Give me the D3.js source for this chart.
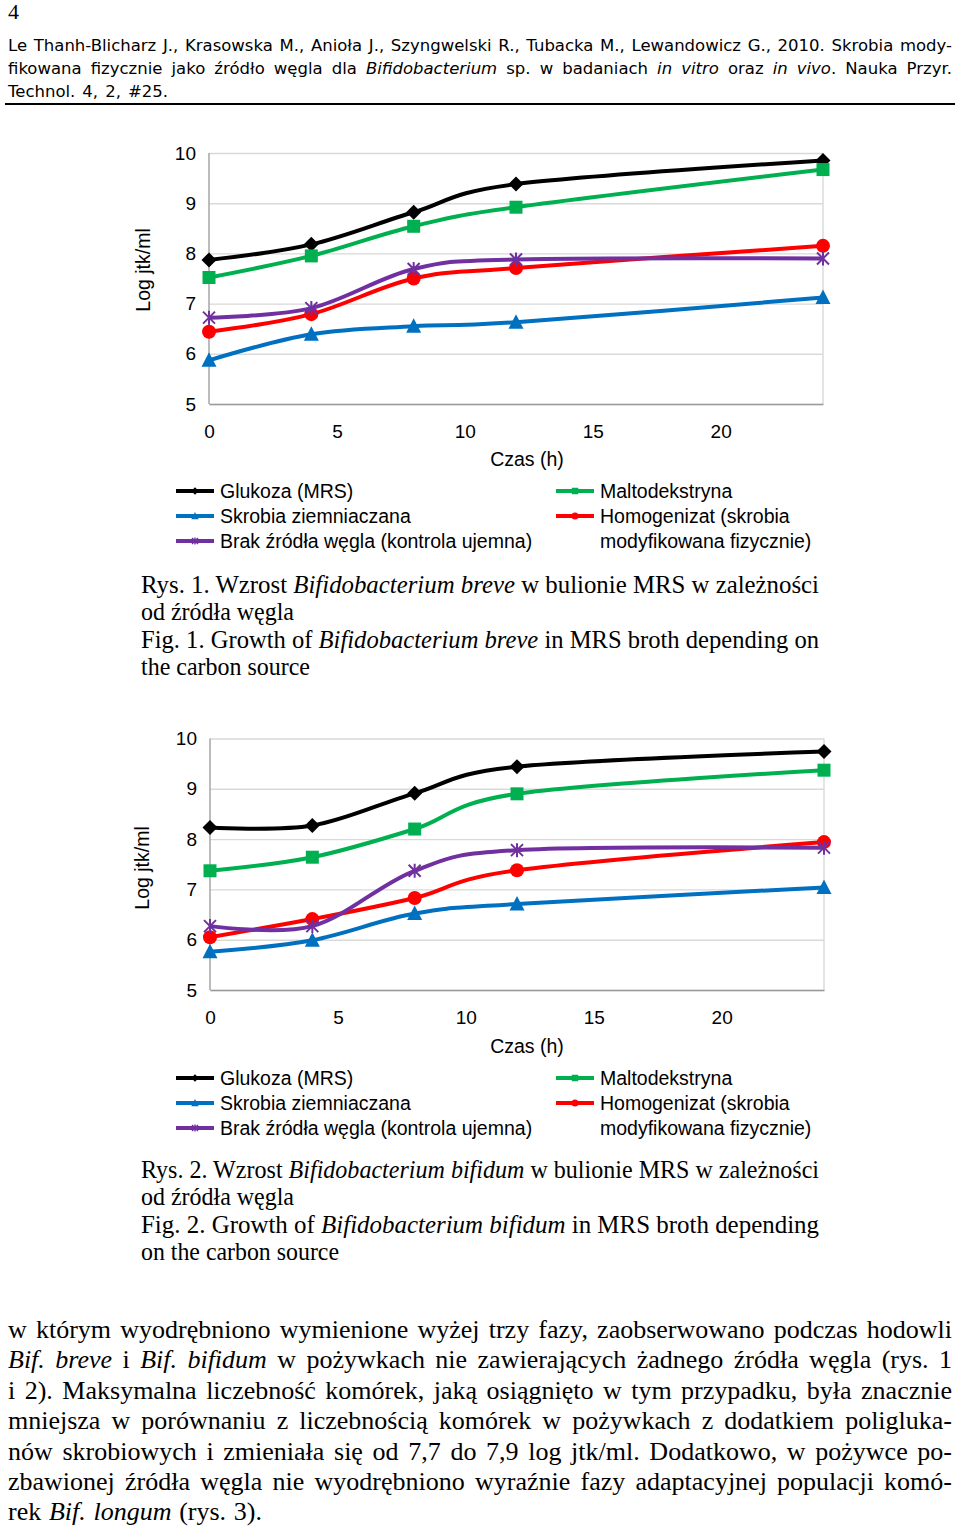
<!DOCTYPE html>
<html>
<head>
<meta charset="utf-8">
<script src="https://cdn.jsdelivr.net/npm/d3@7"></script>
<style>
  body { margin: 0; background: #fff; }
  svg { display: block; }
</style>
</head>
<body>
<div id="page"></div>
<script>
// sampling times (h) and axis ticks
const hours = [0, 4, 8, 12, 24];
const xTicks = [0, 5, 10, 15, 20];
const yTicks = [5, 6, 7, 8, 9, 10];

const seriesNames = ['Glukoza (MRS)', 'Maltodekstryna', 'Skrobia ziemniaczana',
  'Homogenizat (skrobia modyfikowana fizycznie)', 'Brak źródła węgla (kontrola ujemna)'];

// Rys. 1 - Bifidobacterium breve (log jtk/ml)
const breveGlukoza = [7.87, 8.18, 8.82, 9.38, 9.85];
const breveMalto   = [7.52, 7.95, 8.54, 8.92, 9.67];
const breveSkrobia = [5.87, 6.39, 6.55, 6.63, 7.12];
const breveHomog   = [6.44, 6.79, 7.50, 7.71, 8.15];
const breveBrak    = [6.72, 6.91, 7.69, 7.88, 7.90];

// Rys. 2 - Bifidobacterium bifidum (log jtk/ml)
const bifidumGlukoza = [8.23, 8.27, 8.91, 9.44, 9.74];
const bifidumMalto   = [7.37, 7.64, 8.20, 8.90, 9.37];
const bifidumSkrobia = [5.76, 5.99, 6.52, 6.71, 7.04];
const bifidumHomog   = [6.05, 6.41, 6.83, 7.38, 7.94];
const bifidumBrak    = [6.27, 6.27, 7.37, 7.78, 7.83];

const styles = [
  { color: '#000000', shape: 'diamond' },
  { color: '#00b050', shape: 'square' },
  { color: '#0070c0', shape: 'triangle' },
  { color: '#ff0000', shape: 'circle' },
  { color: '#7030a0', shape: 'star' }
];

const sans = "'Liberation Sans', Arial, sans-serif";
const serif = "'Liberation Serif', 'Times New Roman', serif";
const headerFont = "'DejaVu Sans', Tahoma, sans-serif";

let svg = d3.select('#page')
  .append('svg')
  .attr('width', 960)
  .attr('height', 1527)
  .style('background', 'white');

// one line of text, parts are strings or {i: '...'} for italics; optionally fitted to a width
function textLine(x, y, parts, font, size, width) {
  let t = svg.append('text')
    .attr('x', x)
    .attr('y', y)
    .style('font-family', font)
    .style('font-size', size + 'px')
    .attr('fill', '#000');
  parts.forEach(p => {
    let italic = typeof p !== 'string';
    t.append('tspan').text(italic ? p.i : p).style('font-style', italic ? 'italic' : 'normal');
  });
  if (width) {
    let node = t.node();
    let w = node.getComputedTextLength();
    let gaps = (node.textContent.match(/ /g) || []).length;
    if (w > width || gaps === 0) {
      t.attr('textLength', width).attr('lengthAdjust', 'spacingAndGlyphs');
    } else {
      t.style('word-spacing', ((width - w) / gaps) + 'px');
    }
  }
  return t;
}

function markerPath(shape, s) {
  switch (shape) {
    case 'diamond': return `M0,${-7.5*s}L${7.5*s},0L0,${7.5*s}L${-7.5*s},0Z`;
    case 'square': return `M${-6.5*s},${-6.5*s}h${13*s}v${13*s}h${-13*s}Z`;
    case 'triangle': return `M0,${-8*s}L${7.5*s},${6.5*s}H${-7.5*s}Z`;
    case 'circle': return d3.arc()({ innerRadius: 0, outerRadius: 7*s, startAngle: 0, endAngle: 2*Math.PI });
    case 'star': return `M${-6*s},${-6*s}L${6*s},${6*s}M${6*s},${-6*s}L${-6*s},${6*s}M0,${-7*s}V${7*s}`;
  }
}

function drawMarker(g, shape, color, s, tx, ty) {
  let m = g.append('path')
    .attr('d', markerPath(shape, s))
    .attr('transform', `translate(${tx},${ty})`);
  if (shape === 'star') m.attr('fill', 'none').attr('stroke', color).attr('stroke-width', 2 * Math.max(s, 0.7));
  else m.attr('fill', color);
}

function drawChart(c) {
  let xscale = d3.scaleLinear().domain([0, 24]).range([c.left, c.right]);
  let yscale = d3.scaleLinear().domain([5, 10]).range([c.bottom, c.top]);
  let g = svg.append('g');

  // horizontal gridlines + y labels
  g.append('g')
    .attr('transform', `translate(${c.left}, 0)`)
    .call(d3.axisLeft(yscale).tickValues(yTicks).tickFormat(d3.format('d'))
      .tickSize(-(c.right - c.left)).tickPadding(13))
    .call(a => a.select('.domain').remove())
    .call(a => a.selectAll('line').attr('stroke', '#d9d9d9').attr('stroke-width', 1.4))
    .call(a => a.selectAll('text').attr('fill', '#000').style('font-family', sans).style('font-size', '19px'));

  // right border of plot area
  g.append('line')
    .attr('x1', xscale(24)).attr('x2', xscale(24))
    .attr('y1', c.top).attr('y2', c.bottom)
    .attr('stroke', '#d9d9d9').attr('stroke-width', 1.4);

  // left axis line
  g.append('line')
    .attr('x1', c.left).attr('x2', c.left)
    .attr('y1', c.top).attr('y2', c.bottom)
    .attr('stroke', '#a6a6a6').attr('stroke-width', 1.5);

  // bottom axis
  g.append('g')
    .attr('transform', `translate(0, ${c.bottom})`)
    .call(d3.axisBottom(xscale).tickValues(xTicks).tickFormat(d3.format('d')).tickSize(0).tickPadding(21))
    .call(a => a.select('.domain').attr('stroke', '#9a9a9a').attr('stroke-width', 1.5))
    .call(a => a.selectAll('text').attr('fill', '#000').style('font-family', sans).style('font-size', '19px'));

  g.append('text')
    .text('Czas (h)')
    .attr('x', c.xTitleX)
    .attr('y', c.xTitleY)
    .attr('text-anchor', 'middle')
    .style('font-family', sans)
    .style('font-size', '19.5px');

  g.append('text')
    .text('Log jtk/ml')
    .attr('transform', `translate(${c.yTitleX}, ${c.yTitleY}) rotate(-90)`)
    .attr('text-anchor', 'middle')
    .style('font-family', sans)
    .style('font-size', '19.5px');

  let lineGen = d3.line()
    .x((d, i) => xscale(hours[i]))
    .y(d => yscale(d))
    .curve(d3.curveCardinal);

  c.series.forEach((vals, k) => {
    let st = styles[k];
    g.append('path')
      .attr('d', lineGen(vals))
      .attr('fill', 'none')
      .attr('stroke', st.color)
      .attr('stroke-width', 4)
      .attr('stroke-linejoin', 'round');
    vals.forEach((v, i) => drawMarker(g, st.shape, st.color, 1, xscale(hours[i]), yscale(v)));
  });

  // legend
  let rows = [
    { k: 0, col: 0, row: 0, label: seriesNames[0] },
    { k: 2, col: 0, row: 1, label: seriesNames[2] },
    { k: 4, col: 0, row: 2, label: seriesNames[4] },
    { k: 1, col: 1, row: 0, label: seriesNames[1] },
    { k: 3, col: 1, row: 1, label: 'Homogenizat (skrobia' }
  ];
  let colX = [176, 556];
  rows.forEach(r => {
    let st = styles[r.k];
    let ly = c.legendY + r.row * 25;
    let lx = colX[r.col];
    g.append('line')
      .attr('x1', lx).attr('x2', lx + 38)
      .attr('y1', ly).attr('y2', ly)
      .attr('stroke', st.color).attr('stroke-width', 4);
    drawMarker(g, st.shape, st.color, 0.5, lx + 19, ly);
    g.append('text')
      .text(r.label)
      .attr('x', lx + 44)
      .attr('y', ly + 7)
      .style('font-family', sans)
      .style('font-size', '19.5px');
  });
  g.append('text')
    .text('modyfikowana fizycznie)')
    .attr('x', colX[1] + 44)
    .attr('y', c.legendY + 50 + 7)
    .style('font-family', sans)
    .style('font-size', '19.5px');
}

// page header
textLine(8, 19, ['4'], serif, 22);
textLine(8, 51, ['Le Thanh-Blicharz J., Krasowska M., Anioła J., Szyngwelski R., Tubacka M., Lewandowicz G., 2010. Skrobia mody-'], headerFont, 16.5, 944);
textLine(8, 74, ['fikowana fizycznie jako źródło węgla dla ', {i: 'Bifidobacterium'}, ' sp. w badaniach ', {i: 'in vitro'}, ' oraz ', {i: 'in vivo'}, '. Nauka Przyr.'], headerFont, 16.5, 944);
textLine(8, 97, ['Technol. 4, 2, #25.'], headerFont, 16.5, 160);
svg.append('line')
  .attr('x1', 5).attr('x2', 955)
  .attr('y1', 104).attr('y2', 104)
  .attr('stroke', '#000').attr('stroke-width', 2);

drawChart({
  left: 209, right: 823, top: 153, bottom: 404,
  xTitleX: 527, xTitleY: 466, yTitleX: 150, yTitleY: 270,
  legendY: 491,
  series: [breveGlukoza, breveMalto, breveSkrobia, breveHomog, breveBrak]
});

textLine(141, 593, ['Rys. 1. Wzrost ', {i: 'Bifidobacterium breve'}, ' w bulionie MRS w zależności'], serif, 26, 678);
textLine(141, 620, ['od źródła węgla'], serif, 26, 153);
textLine(141, 648, ['Fig. 1. Growth of ', {i: 'Bifidobacterium breve'}, ' in MRS broth depending on'], serif, 26, 678);
textLine(141, 675, ['the carbon source'], serif, 26, 169);

drawChart({
  left: 210, right: 824, top: 738.5, bottom: 990,
  xTitleX: 527, xTitleY: 1053, yTitleX: 149, yTitleY: 868,
  legendY: 1078,
  series: [bifidumGlukoza, bifidumMalto, bifidumSkrobia, bifidumHomog, bifidumBrak]
});

textLine(141, 1178, ['Rys. 2. Wzrost ', {i: 'Bifidobacterium bifidum'}, ' w bulionie MRS w zależności'], serif, 26, 678);
textLine(141, 1205, ['od źródła węgla'], serif, 26, 153);
textLine(141, 1233, ['Fig. 2. Growth of ', {i: 'Bifidobacterium bifidum'}, ' in MRS broth depending'], serif, 26, 678);
textLine(141, 1260, ['on the carbon source'], serif, 26, 198);

// body text
let bodyY = [1338, 1368, 1399, 1429, 1460, 1490, 1520];
textLine(8, bodyY[0], ['w którym wyodrębniono wymienione wyżej trzy fazy, zaobserwowano podczas hodowli'], serif, 26, 944);
textLine(8, bodyY[1], [{i: 'Bif. breve'}, ' i ', {i: 'Bif. bifidum'}, ' w pożywkach nie zawierających żadnego źródła węgla (rys. 1'], serif, 26, 944);
textLine(8, bodyY[2], ['i 2). Maksymalna liczebność komórek, jaką osiągnięto w tym przypadku, była znacznie'], serif, 26, 944);
textLine(8, bodyY[3], ['mniejsza w porównaniu z liczebnością komórek w pożywkach z dodatkiem poligluka-'], serif, 26, 944);
textLine(8, bodyY[4], ['nów skrobiowych i zmieniała się od 7,7 do 7,9 log jtk/ml. Dodatkowo, w pożywce po-'], serif, 26, 944);
textLine(8, bodyY[5], ['zbawionej źródła węgla nie wyodrębniono wyraźnie fazy adaptacyjnej populacji komó-'], serif, 26, 944);
textLine(8, bodyY[6], ['rek ', {i: 'Bif. longum'}, ' (rys. 3).'], serif, 26, 254);
</script>
</body>
</html>
